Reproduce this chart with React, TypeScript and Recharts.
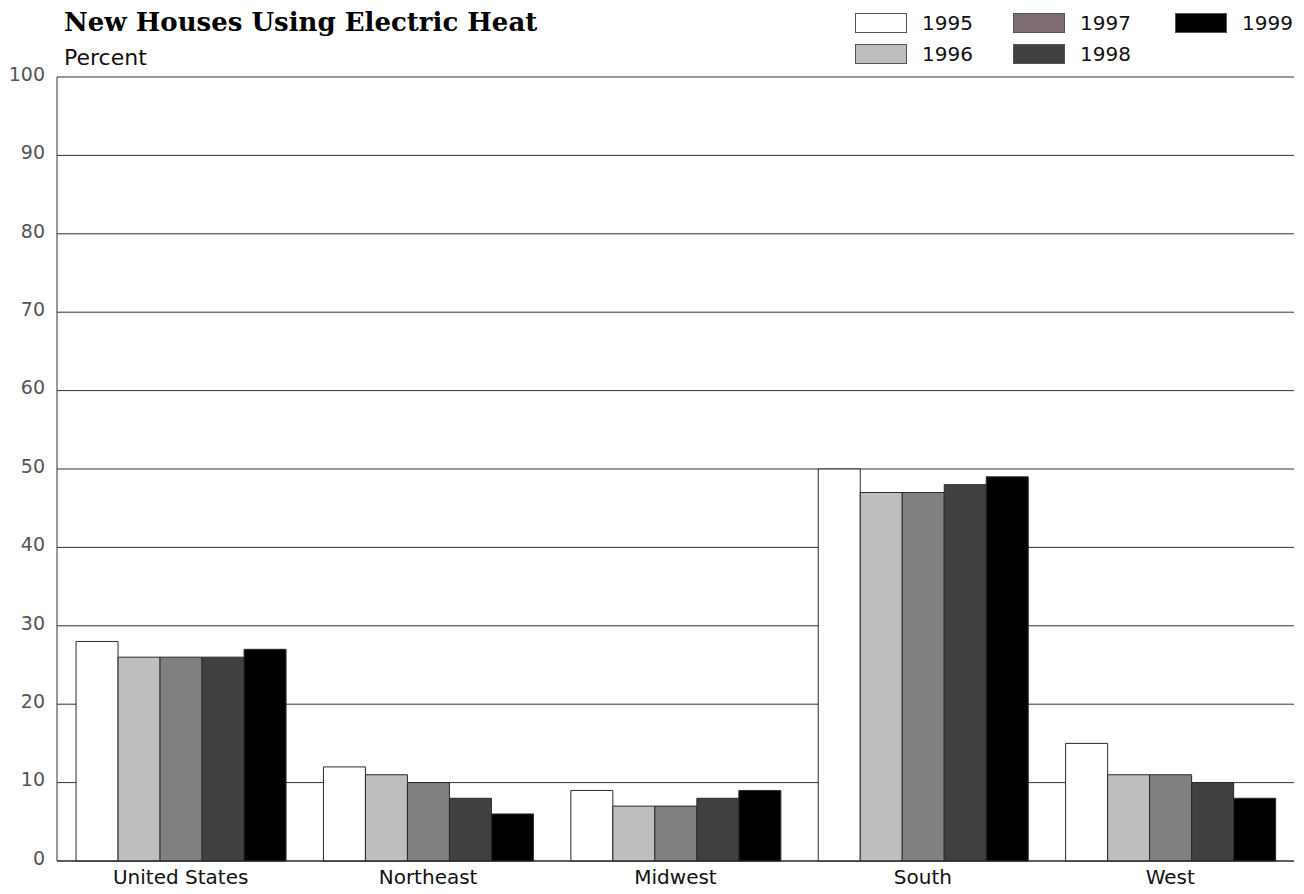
import { BarChart, Bar, XAxis, YAxis, CartesianGrid, Legend } from "recharts";

const REGIONS = ["United States", "Northeast", "Midwest", "South", "West"];
const YEARS = ["1995", "1996", "1997", "1998", "1999"];

const Y1995 = [28, 12, 9, 50, 15];
const Y1996 = [26, 11, 7, 47, 11];
const Y1997 = [26, 10, 7, 47, 11];
const Y1998 = [26, 8, 8, 48, 10];
const Y1999 = [27, 6, 9, 49, 8];

const Y_TICKS = [0, 10, 20, 30, 40, 50, 60, 70, 80, 90, 100];

const BAR_FILLS = ["#ffffff", "#bebebe", "#808080", "#404040", "#000000"];
const LEGEND_FILLS = ["#ffffff", "#bebebe", "#7f6f75", "#404040", "#000000"];

const SERIES = [Y1995, Y1996, Y1997, Y1998, Y1999];

const data = REGIONS.map((region, i) => {
  const row: Record<string, string | number> = { region };
  YEARS.forEach((y, j) => {
    row[y] = SERIES[j][i];
  });
  return row;
});

// legend box is 70px tall and sits above the plot, recharts adds it to the top offset
const LEGEND_H = 70;

function LegendBox() {
  return (
    <div style={{ position: "relative", width: 464, height: LEGEND_H }}>
      {YEARS.map((y, i) => {
        const col = Math.floor(i / 2);
        const row = i % 2;
        return (
          <div
            key={y}
            style={{
              position: "absolute",
              left: [15, 173, 335][col],
              top: row === 0 ? 13 : 44,
              height: 20,
              display: "flex",
              alignItems: "center",
            }}
          >
            <span
              style={{
                display: "inline-block",
                width: 50,
                height: 18,
                backgroundColor: LEGEND_FILLS[i],
                border: "1px solid #555",
              }}
            />
            <span
              style={{
                marginLeft: 15,
                fontFamily: "DejaVu Sans",
                fontSize: 20,
                color: "#111",
              }}
            >
              {y}
            </span>
          </div>
        );
      })}
    </div>
  );
}

export default function App() {
  return (
    <div style={{ position: "absolute", left: 0, top: 0, width: 1304, height: 894, background: "white" }}>
      <div
        style={{
          position: "absolute",
          left: 64,
          top: 7,
          fontFamily: "DejaVu Serif",
          fontWeight: "bold",
          fontSize: 26,
          color: "#000",
          whiteSpace: "nowrap",
        }}
      >
        New Houses Using Electric Heat
      </div>
      <div
        style={{
          position: "absolute",
          left: 64,
          top: 45,
          fontFamily: "DejaVu Sans",
          fontSize: 22,
          color: "#111",
        }}
      >
        Percent
      </div>
      <BarChart
        width={1304}
        height={894}
        data={data}
        margin={{ top: 77 - LEGEND_H, right: 10, bottom: 0, left: 0 }}
        barCategoryGap="7.7%"
        barGap={0}
      >
        <CartesianGrid horizontal vertical={false} stroke="#333" />
        <XAxis
          dataKey="region"
          height={33}
          axisLine={{ stroke: "#222" }}
          tickLine={false}
          tickSize={0}
          tickMargin={9}
          tick={{ fontFamily: "DejaVu Sans", fontSize: 20, fill: "#111" }}
        />
        <YAxis
          domain={[0, 100]}
          ticks={Y_TICKS}
          width={57}
          axisLine={{ stroke: "#333" }}
          tickLine={false}
          tickSize={0}
          tickMargin={12}
          interval={0}
          tick={{ fontFamily: "DejaVu Sans", fontSize: 19, fill: "#555", dy: -3 }}
        />
        <YAxis
          yAxisId="right"
          orientation="right"
          domain={[0, 100]}
          width={0}
          tick={false}
          tickLine={false}
          axisLine={{ stroke: "#333" }}
        />
        <Legend
          verticalAlign="top"
          content={() => <LegendBox />}
          wrapperStyle={{ position: "absolute", top: 0, left: 840, width: 464, height: LEGEND_H }}
        />
        {YEARS.map((y, i) => (
          <Bar
            key={y}
            dataKey={y}
            fill={BAR_FILLS[i]}
            stroke="#2a2a2a"
            strokeWidth={1}
            isAnimationActive={false}
          />
        ))}
      </BarChart>
    </div>
  );
}
